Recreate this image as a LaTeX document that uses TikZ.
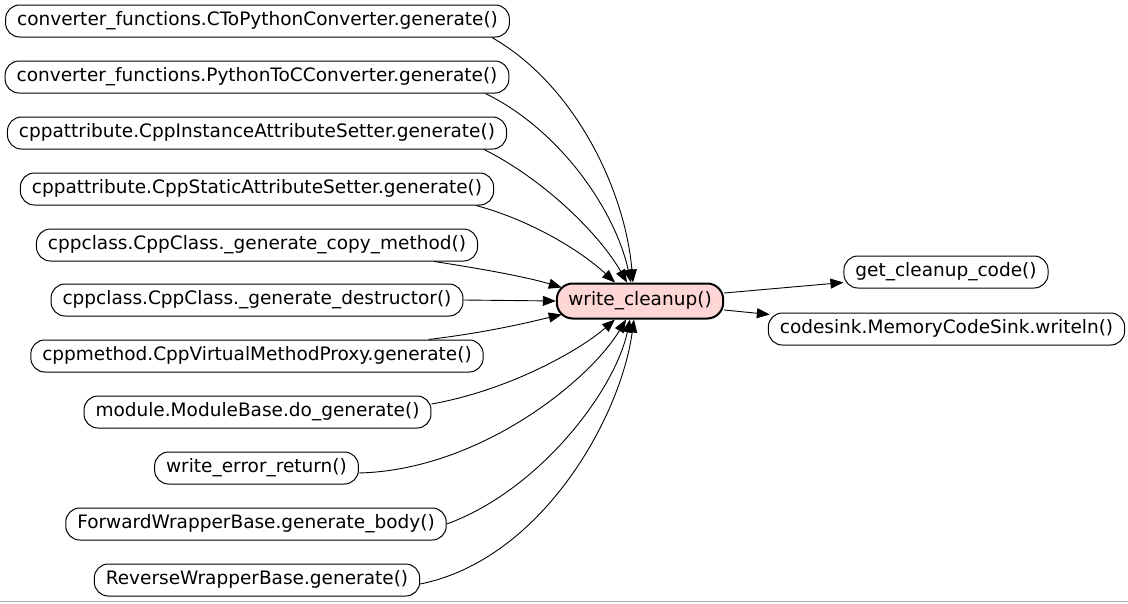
\documentclass[tikz,border=0pt]{standalone}
\usepackage{fontspec}
\setmainfont{DejaVu Sans}
\usetikzlibrary{arrows.meta}
\definecolor{wcpink}{RGB}{255,214,214}
\begin{document}
\begin{tikzpicture}[x=1pt,y=-1pt,
  fn/.style={draw=black,line width=1pt,rounded corners=14pt,minimum height=32pt,inner xsep=11.5pt,inner ysep=0pt,
    font=\fontsize{18.5pt}{20pt}\selectfont,text height=13.5pt,text depth=4pt},
  hub/.style={fn,fill=wcpink,line width=2pt,minimum height=35pt,rounded corners=16pt},
  edge/.style={line width=0.9pt,-{Triangle[length=13pt,width=10pt]}}]
\fill[white] (0,0) rectangle (1128,603);
\useasboundingbox (0,0) rectangle (1128,603);
\draw[black!30,line width=1pt] (0,601.5) -- (1128,601.5);

\node[fn] (n1) at (257.5,21) {converter\_functions.CToPythonConverter.generate()};
\node[fn] (n2) at (257,77) {converter\_functions.PythonToCConverter.generate()};
\node[fn] (n3) at (257,133) {cppattribute.CppInstanceAttributeSetter.generate()};
\node[fn] (n4) at (257,189) {cppattribute.CppStaticAttributeSetter.generate()};
\node[fn] (n5) at (257,245) {cppclass.CppClass.\_generate\_copy\_method()};
\node[fn] (n6) at (257,300) {cppclass.CppClass.\_generate\_destructor()};
\node[fn] (n7) at (257,356) {cppmethod.CppVirtualMethodProxy.generate()};
\node[fn] (n8) at (257.5,412) {module.ModuleBase.do\_generate()};
\node[fn] (n9) at (256.5,468) {write\_error\_return()};
\node[fn] (n10) at (256,524) {ForwardWrapperBase.generate\_body()};
\node[fn] (n11) at (257,580) {ReverseWrapperBase.generate()};

\node[hub] (wc) at (640,301) {write\_cleanup()};
\node[fn] (gcc) at (946,272) {get\_cleanup\_code()};
\node[fn] (cs) at (946.5,329) {codesink.MemoryCodeSink.writeln()};

\draw[edge] ([xshift=-18pt]n1.south east) .. controls (575,85) and (625,190) .. ([xshift=-7pt]wc.north);
\draw[edge] ([xshift=-24pt]n2.south east) .. controls (560,130) and (615,210) .. ([xshift=-9pt]wc.north);
\draw[edge] ([xshift=-23pt]n3.south east) .. controls (545,180) and (600,235) .. ([xshift=-13pt]wc.north);
\draw[edge] ([xshift=-18pt]n4.south east) .. controls (530,220) and (580,250) .. ([xshift=-25pt]wc.north);
\draw[edge] ([xshift=-44pt]n5.south east) .. controls (490,270) and (530,278) .. ([xshift=6pt,yshift=-5pt]wc.north west);
\draw[edge] (n6.east) -- (wc.west);
\draw[edge] ([xshift=-55pt]n7.north east) .. controls (490,332) and (530,322) .. ([xshift=6pt,yshift=5pt]wc.south west);
\draw[edge] ([yshift=8pt]n8.east) .. controls (510,390) and (580,350) .. ([xshift=-25pt]wc.south);
\draw[edge] ([yshift=-5pt]n9.east) .. controls (480,470) and (590,380) .. ([xshift=-14pt]wc.south);
\draw[edge] (n10.east) .. controls (540,490) and (615,390) .. ([xshift=-10pt]wc.south);
\draw[edge] ([yshift=-4pt]n11.east) .. controls (540,560) and (620,420) .. ([xshift=-6pt]wc.south);

\draw[edge] ([yshift=8pt]wc.east) -- ([yshift=6pt]gcc.south west);
\draw[edge] ([yshift=-9pt]wc.east) -- ([xshift=2pt,yshift=-2pt]cs.north west);
\end{tikzpicture}
\end{document}
